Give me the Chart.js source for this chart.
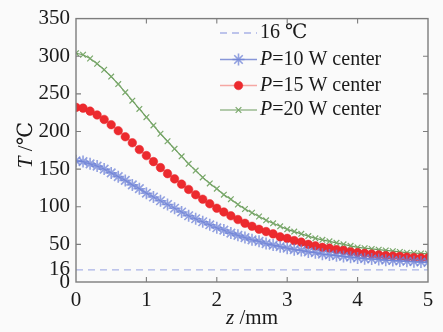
<!DOCTYPE html>
<html><head><meta charset="utf-8">
<script src="https://cdn.jsdelivr.net/npm/chart.js@4"></script>
<style>html,body{margin:0;padding:0;background:#fafafa}#w{width:443px;height:332px;position:relative}</style>
</head><body><div id="w"><canvas id="c"></canvas></div>
<script>
// ---- data ----
const zValues = [0,0.1,0.2,0.3,0.4,0.5,0.6,0.7,0.8,0.9,
  1.0,1.1,1.2,1.3,1.4,1.5,1.6,1.7,1.8,1.9,
  2.0,2.1,2.2,2.3,2.4,2.5,2.6,2.7,2.8,2.9,
  3.0,3.1,3.2,3.3,3.4,3.5,3.6,3.7,3.8,3.9,
  4.0,4.1,4.2,4.3,4.4,4.5,4.6,4.7,4.8,4.9,5.0];
const p10 = [161,160,157,154,150,145,140,135,129,124,
  118,113,108,103,98,93,88,84,80,76,
  72,69,65,62,59,56,54,51,49,47,
  45,43,42,40,39,37,36,35,34,33,
  32,31,30.5,30,29,28.5,28,27.5,27,26.5,26];
const p15 = [232,231,227,222,216,209,201,193,185,176,
  168,160,152,144,137,130,123,116,110,104,
  98,93,88,83,78,74,70,67,64,60,
  58,55,53,50,48,46,45,43,42,40,
  39,38,37,36,35,34.5,34,33,32.5,32,32];
const p20 = [304,302,297,290,282,273,263,252,241,230,
  219,208,197,187,177,167,157,148,139,131,
  124,116,110,103,97,92,87,82,78,74,
  70,67,64,61,58,56,54,52,50,48,
  46,45,44,43,42,41,40,39,38.5,38,37.5];
const refZ = [0,5];
const refT = [16,16];
const yTicks = [0,16,50,100,150,200,250,300,350];
const xTicks = [0,1,2,3,4,5];
const legendItalic = ['', 'P', 'P', 'P'];
const legendRest = ['16 \u2103', '=10 W center', '=15 W center', '=20 W center'];
const xTitle = ['z', ' /mm'];
const yTitle = ['T', ' /\u2103'];

const pts = (xs, ys) => xs.map((x, i) => ({x, y: ys[i]}));
const SERIF = '"Liberation Serif", "DejaVu Serif", serif';

const datasets = [
  {label: legendRest[0], data: pts(refZ, refT), borderColor: '#a9b3e6', borderWidth: 1.3,
   borderDash: [7,5], pointRadius: 0},
  {label: 'P' + legendRest[1], data: pts(zValues, p10), borderColor: '#8796d8', borderWidth: 1.3,
   pointStyle: 'star', pointRadius: 6, pointBorderColor: 'rgba(110,130,215,0.75)', pointBorderWidth: 1.6,
   pointBackgroundColor: 'rgba(0,0,0,0)'},
  {label: 'P' + legendRest[2], data: pts(zValues, p15), borderColor: '#f5a7a3', borderWidth: 1.3,
   pointStyle: 'circle', pointRadius: 4.3, pointBorderColor: '#e8262c', pointBorderWidth: 0.5,
   pointBackgroundColor: '#ec2a2e'},
  {label: 'P' + legendRest[3], data: pts(zValues, p20), borderColor: '#6b9a5c', borderWidth: 1.2,
   pointStyle: 'crossRot', pointRadius: 4, pointBorderColor: '#79a86a', pointBorderWidth: 1.2,
   pointBackgroundColor: 'rgba(0,0,0,0)'}
];

const decor = {
  id: 'decor',
  afterDraw(chart) {
    const ctx = chart.ctx, a = chart.chartArea;
    const xs = chart.scales.x, ys = chart.scales.y;
    ctx.save();
    // frame
    ctx.strokeStyle = '#7d7d7d'; ctx.lineWidth = 1.4;
    ctx.strokeRect(a.left, a.top, a.right - a.left, a.bottom - a.top);
    // inward ticks
    ctx.lineWidth = 1.1;
    ctx.beginPath();
    xTicks.forEach(v => { if (v > 0 && v < 5) { const p = xs.getPixelForValue(v);
      ctx.moveTo(p, a.bottom); ctx.lineTo(p, a.bottom - 5);
      ctx.moveTo(p, a.top); ctx.lineTo(p, a.top + 5); }});
    [50,100,150,200,250,300].forEach(v => { const p = ys.getPixelForValue(v);
      ctx.moveTo(a.left, p); ctx.lineTo(a.left + 5, p);
      ctx.moveTo(a.right, p); ctx.lineTo(a.right - 5, p); });
    ctx.stroke();
    // axis titles
    ctx.fillStyle = '#1a1a1a';
    ctx.textBaseline = 'middle';
    const drawMixed = (parts, x, y) => {
      ctx.font = 'italic 21px ' + SERIF;
      const w0 = ctx.measureText(parts[0]).width;
      ctx.font = '21px ' + SERIF;
      const w1 = ctx.measureText(parts[1]).width;
      const start = x - (w0 + w1) / 2;
      ctx.textAlign = 'left';
      ctx.font = 'italic 21px ' + SERIF; ctx.fillText(parts[0], start, y);
      ctx.font = '21px ' + SERIF; ctx.fillText(parts[1], start + w0, y);
    };
    drawMixed(xTitle, (a.left + a.right) / 2, 318);
    ctx.save(); ctx.translate(26, 145); ctx.rotate(-Math.PI / 2);
    drawMixed(yTitle, 0, 0); ctx.restore();
    // legend
    const lx0 = 220, lx1 = 257, tx = 260;
    const rowsY = [33, 59.5, 85.5, 110];
    chart.data.datasets.forEach((ds, i) => {
      const y = rowsY[i];
      ctx.save();
      ctx.strokeStyle = ds.borderColor; ctx.lineWidth = ds.borderWidth;
      ctx.setLineDash(ds.borderDash || []);
      ctx.beginPath(); ctx.moveTo(lx0, y); ctx.lineTo(lx1, y); ctx.stroke();
      ctx.restore();
      if (ds.pointRadius > 0) {
        ctx.save();
        ctx.fillStyle = ds.pointBackgroundColor; ctx.strokeStyle = ds.pointBorderColor;
        ctx.lineWidth = ds.pointBorderWidth;
        Chart.helpers.drawPoint(ctx, {pointStyle: ds.pointStyle, radius: ds.pointRadius, rotation: 0,
          borderWidth: ds.pointBorderWidth}, (lx0 + lx1) / 2, y);
        ctx.restore();
      }
      ctx.fillStyle = '#1a1a1a'; ctx.textAlign = 'left'; ctx.textBaseline = 'middle';
      let x = tx;
      if (legendItalic[i]) { ctx.font = 'italic 20px ' + SERIF; ctx.fillText(legendItalic[i], x, y);
        x += ctx.measureText(legendItalic[i]).width; }
      ctx.font = '20px ' + SERIF; ctx.fillText(legendRest[i], x, y);
    });
    ctx.restore();
  }
};

new Chart(document.getElementById('c'), {
  type: 'line',
  data: {datasets},
  options: {
    responsive: true, maintainAspectRatio: false, animation: false,
    layout: {padding: {left: 0, right: 15, top: 14, bottom: 0}},
    plugins: {legend: {display: false}, tooltip: {enabled: false}},
    elements: {line: {tension: 0}},
    scales: {
      x: {type: 'linear', min: 0, max: 5,
        afterBuildTicks: s => { s.ticks = xTicks.map(v => ({value: v})); },
        afterFit: s => { s.height = 50; },
        grid: {display: false, drawTicks: false}, border: {display: false},
        ticks: {color: '#1a1a1a', padding: 6, font: {family: SERIF, size: 21}, maxRotation: 0}},
      y: {type: 'linear', min: 0, max: 350,
        afterBuildTicks: s => { s.ticks = yTicks.map(v => ({value: v})); },
        afterFit: s => { s.width = 76; },
        grid: {display: false, drawTicks: false}, border: {display: false},
        ticks: {color: '#1a1a1a', padding: 6, autoSkip: false, font: {family: SERIF, size: 21}}}
    }
  },
  plugins: [decor]
});
</script></body></html>
